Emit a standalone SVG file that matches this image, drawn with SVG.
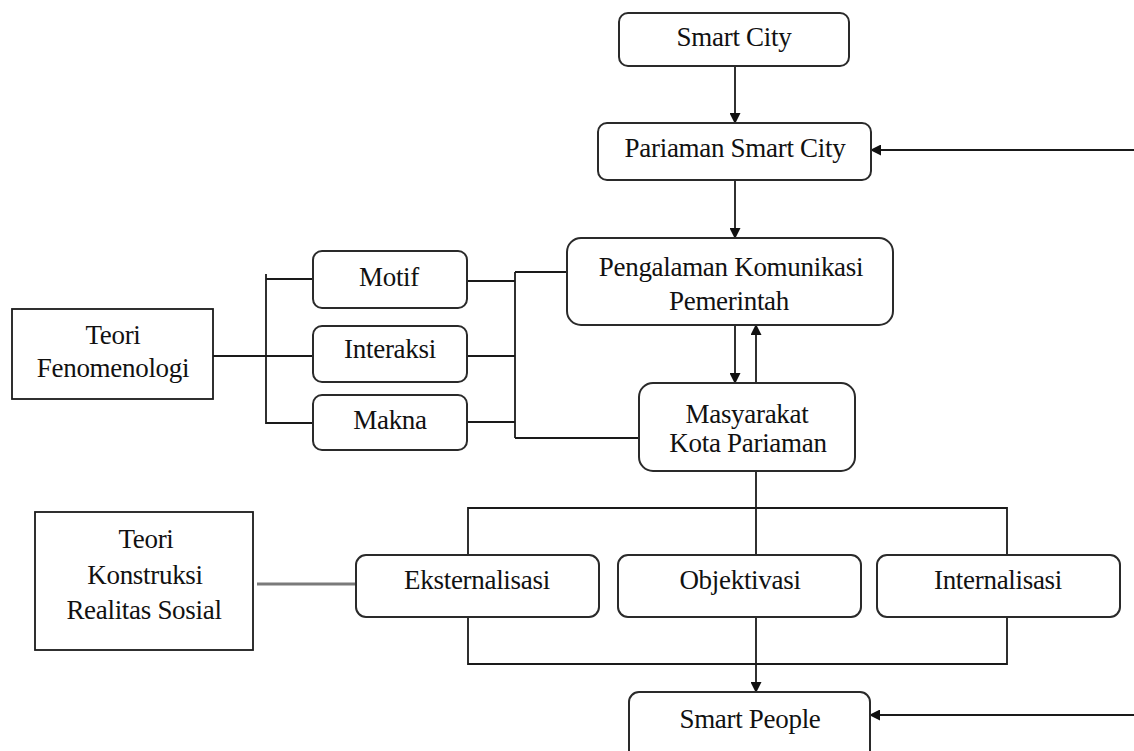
<svg xmlns="http://www.w3.org/2000/svg" width="1134" height="751" viewBox="0 0 1134 751">
<style>
  .rb { fill: #fff; stroke: #2a2a2a; stroke-width: 2; }
  .sq { fill: #fff; stroke: #1a1a1a; stroke-width: 1.8; }
  .t { font-family: "Liberation Serif", "Times New Roman", serif; font-size: 27px; fill: #111; text-anchor: middle; letter-spacing: -0.3px; }
  .ln { fill: none; stroke: #1a1a1a; stroke-width: 1.8; }
  .gr { fill: none; stroke: #7a7a7a; stroke-width: 3; }
</style>
<defs>
  <marker id="ah" markerWidth="11" markerHeight="11" refX="10" refY="5.5" orient="auto" markerUnits="userSpaceOnUse">
    <path d="M0,0 L11,5.5 L0,11 z" fill="#111"/>
  </marker>
</defs>
<rect width="1134" height="751" fill="#fff"/>

<g id="connectors">
  <line class="ln" x1="735" y1="66" x2="735" y2="123" marker-end="url(#ah)"/>
  <line class="ln" x1="1134" y1="150" x2="871" y2="150" marker-end="url(#ah)"/>
  <line class="ln" x1="735" y1="180" x2="735" y2="238" marker-end="url(#ah)"/>
  <line class="ln" x1="735" y1="325" x2="735" y2="383" marker-end="url(#ah)"/>
  <line class="ln" x1="756" y1="383" x2="756" y2="325" marker-end="url(#ah)"/>
  <line class="ln" x1="756" y1="471" x2="756" y2="555"/>
  <polyline class="ln" points="468,555 468,508 1007,508 1007,555"/>
  <polyline class="ln" points="468,617 468,664 1007,664 1007,617"/>
  <line class="ln" x1="756" y1="617" x2="756" y2="692" marker-end="url(#ah)"/>
  <line class="ln" x1="1134" y1="715" x2="870" y2="715" marker-end="url(#ah)"/>
  <line class="gr" x1="257" y1="584" x2="356" y2="584"/>
  <line class="ln" x1="213" y1="356" x2="313" y2="356"/>
  <line class="ln" x1="266" y1="274" x2="266" y2="424"/>
  <line class="ln" x1="266" y1="279" x2="313" y2="279"/>
  <line class="ln" x1="266" y1="423" x2="313" y2="423"/>
  <line class="ln" x1="467" y1="281" x2="515" y2="281"/>
  <line class="ln" x1="467" y1="356" x2="515" y2="356"/>
  <line class="ln" x1="467" y1="422" x2="515" y2="422"/>
  <line class="ln" x1="515" y1="272" x2="515" y2="438"/>
  <line class="ln" x1="515" y1="272" x2="567" y2="272"/>
  <line class="ln" x1="515" y1="438" x2="639" y2="438"/>
</g>

<g id="smart-city">
  <rect class="rb" x="619" y="13" width="230" height="53" rx="9"/>
  <text class="t" x="734" y="46">Smart City</text>
</g>
<g id="pariaman-smart-city">
  <rect class="rb" x="598" y="123" width="273" height="57" rx="9"/>
  <text class="t" x="735" y="157">Pariaman Smart City</text>
</g>
<g id="pengalaman">
  <rect class="rb" x="567" y="238" width="326" height="87" rx="14"/>
  <text class="t" x="731" y="276">Pengalaman Komunikasi</text>
  <text class="t" x="729" y="310">Pemerintah</text>
</g>
<g id="masyarakat">
  <rect class="rb" x="639" y="383" width="216" height="88" rx="14"/>
  <text class="t" x="747" y="423">Masyarakat</text>
  <text class="t" x="748" y="452">Kota Pariaman</text>
</g>
<g id="teori-fenomenologi">
  <rect class="sq" x="12" y="309" width="201" height="90"/>
  <text class="t" x="113" y="344">Teori</text>
  <text class="t" x="113" y="377">Fenomenologi</text>
</g>
<g id="motif">
  <rect class="rb" x="313" y="251" width="154" height="57" rx="9"/>
  <text class="t" x="389" y="286">Motif</text>
</g>
<g id="interaksi">
  <rect class="rb" x="313" y="326" width="154" height="56" rx="9"/>
  <text class="t" x="390" y="358">Interaksi</text>
</g>
<g id="makna">
  <rect class="rb" x="313" y="395" width="154" height="55" rx="9"/>
  <text class="t" x="390" y="429">Makna</text>
</g>
<g id="teori-konstruksi">
  <rect class="sq" x="35" y="512" width="218" height="138"/>
  <text class="t" x="146" y="548">Teori</text>
  <text class="t" x="145" y="584">Konstruksi</text>
  <text class="t" x="144" y="619">Realitas Sosial</text>
</g>
<g id="eksternalisasi">
  <rect class="rb" x="356" y="555" width="243" height="62" rx="10"/>
  <text class="t" x="477" y="589">Eksternalisasi</text>
</g>
<g id="objektivasi">
  <rect class="rb" x="618" y="555" width="243" height="62" rx="10"/>
  <text class="t" x="740" y="589">Objektivasi</text>
</g>
<g id="internalisasi">
  <rect class="rb" x="877" y="555" width="243" height="62" rx="10"/>
  <text class="t" x="998" y="589">Internalisasi</text>
</g>
<g id="smart-people">
  <rect class="rb" x="629" y="692" width="241" height="70" rx="10"/>
  <text class="t" x="750" y="728">Smart People</text>
</g>
</svg>
